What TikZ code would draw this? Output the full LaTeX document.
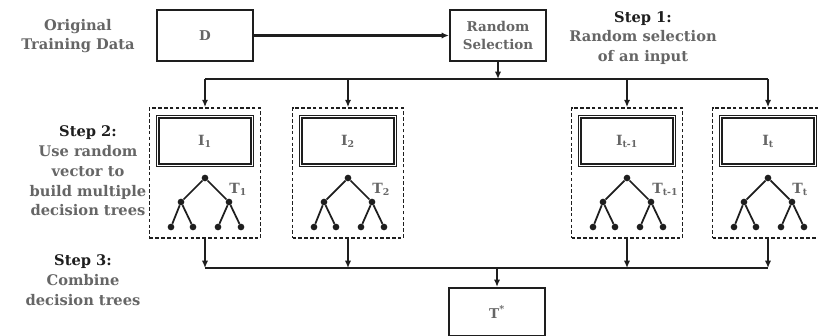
\documentclass[tikz,border=0pt]{standalone}
\usepackage{fontspec}
\setmainfont{DejaVu Serif}
\usetikzlibrary{arrows.meta,positioning,calc}
\definecolor{ink}{HTML}{1E1E1E}
\definecolor{soft}{HTML}{666666}
\tikzset{
  solidbox/.style={draw=ink, line width=1.9pt, fill=white, minimum width=2.88cm,
                   minimum height=1.53cm, align=center, text=soft,
                   font=\bfseries\fontsize{11.5}{15.5}\selectfont},
  inputbox/.style={draw=ink, double, double distance=1.2pt, line width=1pt,
                   minimum width=2.84cm, minimum height=1.46cm, text=soft,
                   font=\bfseries\fontsize{12}{14}\selectfont},
  treebox/.style={draw=ink, densely dashed, line width=1.5pt, minimum width=3.33cm,
                  minimum height=3.9cm},
  sidetext/.style={align=center, text=soft, font=\bfseries\fontsize{12.5}{16.8}\selectfont},
  treelbl/.style={anchor=west, inner sep=1pt, text=soft,
                  font=\bfseries\fontsize{12}{14}\selectfont},
  leaf/.style={circle, fill=ink, inner sep=0pt, minimum size=2mm},
  branch/.style={line width=1.5pt, color=ink},
  bus/.style={line width=1.9pt, color=ink},
  arr/.style={-{Latex[length=2.2mm,width=1.9mm]}, line width=1.9pt, color=ink},
  dtree/.pic={
    \node[leaf] (-r)  at (0,0) {};
    \node[leaf] (-a)  at (-24,24) {};
    \node[leaf] (-b)  at (24,24) {};
    \node[leaf] (-a1) at (-34,49) {};
    \node[leaf] (-a2) at (-12,49) {};
    \node[leaf] (-b1) at (13,49) {};
    \node[leaf] (-b2) at (36,49) {};
    \draw[branch] (-a) -- (-r) -- (-b);
    \draw[branch] (-a1) -- (-a) -- (-a2);
    \draw[branch] (-b1) -- (-b) -- (-b2);
  }}
\begin{document}
\begin{tikzpicture}[x=0.03cm, y=-0.03cm]
  \clip (0,0) rectangle (818,335);
  \fill[white] (0,0) rectangle (818,335);
  % step 1
  \node[sidetext] (datalbl) at (78,36) {Original\\Training Data};
  \node[solidbox] (data) at (205,35.5) {D};
  \node[solidbox] (select) at (498,35.5) {Random\\Selection};
  \node[sidetext] (step1) at (643,38)
    {\textcolor{ink}{Step 1:}\\Random selection\\of an input};
  \draw[arr] (data) -- (select);
  \coordinate (split) at (498,79);
  \draw[arr] (select) -- (split);
  % step 2: one input and one tree per box
  \node[sidetext] (step2) at (88,171)
    {\textcolor{ink}{Step 2:}\\Use random\\vector to\\build multiple\\decision trees};
  \node[treebox] (b1) at (205,173) {};
  \node[treebox] (b2) at (348,173) {};
  \node[treebox] (b3) at (627,173) {};
  \node[treebox] (b4) at (768,173) {};
  \node[inputbox] (in1) at (205,141) {I\textsubscript{1}};
  \node[inputbox] (in2) at (348,141) {I\textsubscript{2}};
  \node[inputbox] (in3) at (627,141) {I\textsubscript{t-1}};
  \node[inputbox] (in4) at (768,141) {I\textsubscript{t}};
  \pic (t1) at (205,178) {dtree};
  \pic (t2) at (348,178) {dtree};
  \pic (t3) at (627,178) {dtree};
  \pic (t4) at (768,178) {dtree};
  \node[treelbl] (tl1) at (228,189) {T\textsubscript{1}};
  \node[treelbl] (tl2) at (371,189) {T\textsubscript{2}};
  \node[treelbl] (tl3) at (651,189) {T\textsubscript{t-1}};
  \node[treelbl] (tl4) at (791,189) {T\textsubscript{t}};
  \draw[bus] (b1.north |- split) -- (b4.north |- split);
  \draw[arr] (b1.north |- split) -- (b1.north);
  \draw[arr] (b2.north |- split) -- (b2.north);
  \draw[arr] (b3.north |- split) -- (b3.north);
  \draw[arr] (b4.north |- split) -- (b4.north);
  % step 3
  \node[sidetext] (step3) at (83,280)
    {\textcolor{ink}{Step 3:}\\Combine\\decision trees};
  \coordinate (merge) at (497,268);
  \draw[arr] (b1.south) -- (b1.south |- merge);
  \draw[arr] (b2.south) -- (b2.south |- merge);
  \draw[arr] (b3.south) -- (b3.south |- merge);
  \draw[arr] (b4.south) -- (b4.south |- merge);
  \draw[bus] (b1.south |- merge) -- (b4.south |- merge);
  \node[solidbox, minimum height=1.44cm] (final) at (497,312) {T\textsuperscript{*}};
  \draw[arr] (merge) -- (final);
\end{tikzpicture}
\end{document}
